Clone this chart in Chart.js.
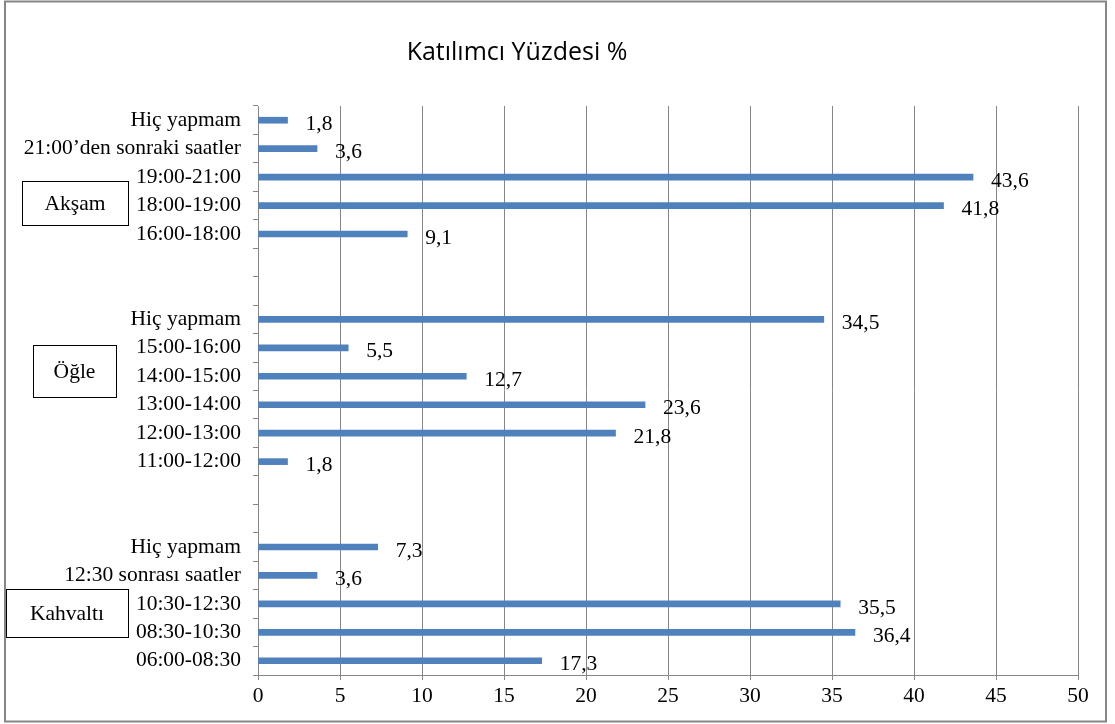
<!DOCTYPE html>
<html>
<head>
<meta charset="utf-8">
<script src="https://cdn.jsdelivr.net/npm/chart.js@4"></script>
<style>
    html, body { margin: 0; padding: 0; background: #fff; }
    #wrap { width: 1115px; height: 724px; position: relative; }
</style>
</head>
<body>
<div id="wrap"><canvas id="chart" width="1115" height="724"></canvas></div>
<script>
// categories top to bottom, '' rows are the gaps between groups
const labels = [
    'Hiç yapmam', '21:00’den sonraki saatler', '19:00-21:00', '18:00-19:00', '16:00-18:00',
    '', '',
    'Hiç yapmam', '15:00-16:00', '14:00-15:00', '13:00-14:00', '12:00-13:00', '11:00-12:00',
    '', '',
    'Hiç yapmam', '12:30 sonrası saatler', '10:30-12:30', '08:30-10:30', '06:00-08:30'
];
const percents = [
    1.8, 3.6, 43.6, 41.8, 9.1,
    null, null,
    34.5, 5.5, 12.7, 23.6, 21.8, 1.8,
    null, null,
    7.3, 3.6, 35.5, 36.4, 17.3
];
const groupNames = ['Akşam', 'Öğle', 'Kahvaltı'];
const titleText = 'Katılımcı Yüzdesi %';

const GRID = '#868686';
const SERIF = '"Liberation Serif", "Times New Roman", serif';
const FS = 21.5;

// value labels like "43,6" right of each bar
const valueLabels = {
    id: 'valueLabels',
    afterDatasetsDraw(chart) {
        const ctx = chart.ctx;
        const meta = chart.getDatasetMeta(0);
        ctx.save();
        ctx.font = FS + 'px ' + SERIF;
        ctx.fillStyle = '#000';
        ctx.textBaseline = 'middle';
        ctx.textAlign = 'left';
        meta.data.forEach((bar, i) => {
            const v = percents[i];
            if (v == null) return;
            ctx.fillText(String(v).replace('.', ','), bar.x + 18, bar.y + 4);
        });
        ctx.restore();
    }
};

// title, frame and the group boxes on the left
const decorations = {
    id: 'decorations',
    afterDraw(chart) {
        const ctx = chart.ctx;
        ctx.save();
        ctx.strokeStyle = GRID;
        ctx.lineWidth = 2;
        ctx.strokeRect(5, 1.5, 1101, 720);

        ctx.fillStyle = '#000';
        ctx.font = '25px "Open Sans", sans-serif';
        ctx.textAlign = 'center';
        ctx.textBaseline = 'middle';
        ctx.fillText(titleText, 517, 53);

        const boxes = [
            [22, 181, 106, 44],
            [33, 345, 83, 52],
            [6, 589, 122, 48]
        ];
        ctx.strokeStyle = '#000';
        ctx.lineWidth = 1;
        ctx.font = FS + 'px ' + SERIF;
        boxes.forEach((b, i) => {
            ctx.strokeRect(b[0] + 0.5, b[1] + 0.5, b[2], b[3]);
            ctx.fillText(groupNames[i], b[0] + b[2] / 2, b[1] + b[3] / 2 + 1);
        });
        ctx.restore();
    }
};

new Chart(document.getElementById('chart'), {
    type: 'bar',
    data: {
        labels: labels,
        datasets: [{
            data: percents,
            backgroundColor: '#4f81bd',
            barThickness: 6
        }]
    },
    options: {
        indexAxis: 'y',
        responsive: false,
        animation: false,
        layout: {padding: {top: 106, right: 37, left: 0, bottom: 0}},
        plugins: {
            legend: {display: false},
            tooltip: {enabled: false},
            title: {display: false}
        },
        scales: {
            x: {
                min: 0,
                max: 50,
                ticks: {
                    stepSize: 5,
                    color: '#000',
                    padding: 3,
                    maxRotation: 0,
                    font: {family: SERIF, size: FS}
                },
                grid: {color: GRID, tickLength: 5, drawTicks: true},
                border: {color: GRID},
                afterFit(scale) { scale.height = 49; }
            },
            y: {
                ticks: {
                    color: '#000',
                    padding: 12,
                    autoSkip: false,
                    font: {family: SERIF, size: FS}
                },
                grid: {
                    offset: true,
                    drawOnChartArea: false,
                    drawTicks: true,
                    tickLength: 5,
                    color: GRID
                },
                border: {color: GRID},
                afterFit(scale) { scale.width = 258; }
            }
        }
    },
    plugins: [valueLabels, decorations]
});
</script>
</body>
</html>
